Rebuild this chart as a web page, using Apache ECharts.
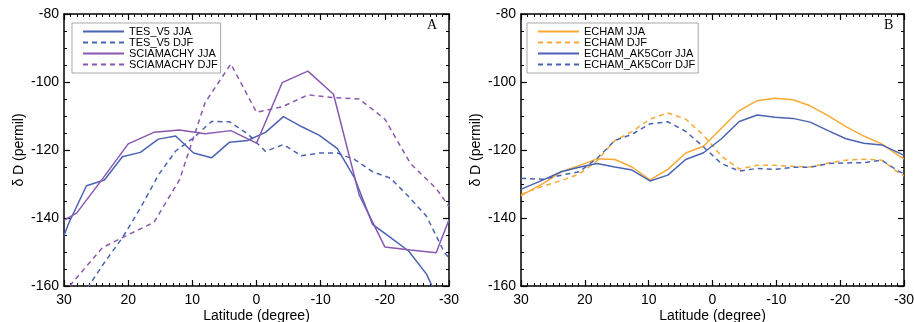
<!DOCTYPE html>
<html>
<head>
<meta charset="utf-8">
<script src="https://cdn.jsdelivr.net/npm/echarts@6/dist/echarts.min.js"></script>
<style>
  html, body { margin: 0; padding: 0; background: #fff; }
  #chart { width: 914px; height: 322px; }
</style>
</head>
<body>
<div id="chart"></div>
<script>
// latitude grids (degrees north)
const latT42 = [30, 29.3, 26.5, 23.7, 20.9, 18.1, 15.3, 12.6, 9.8, 7.0, 4.2, 1.4,
  -1.4, -4.2, -7.0, -9.8, -12.6, -15.3, -18.1, -20.9, -23.7, -26.5, -29.3, -30];
const latSciamachy = [30, 28, 24, 20, 16, 12, 8, 4, 0, -4, -8, -12, -16, -20, -24, -28, -30];

// panel A
const tesJJA = [-145.2, -141.7, -130.5, -128.8, -122.0, -120.7, -116.8, -115.9, -120.9, -122.3, -117.7, -117.2,
  -114.8, -110.2, -113.1, -115.7, -119.6, -128.3, -141.9, -145.8, -149.7, -156.5, -168, -171];
const tesDJF = [-175, -172, -161, -153.1, -145.8, -137.1, -127.4, -120.3, -116.4, -111.6, -111.7, -115.2,
  -120.4, -118.4, -121.7, -120.9, -120.9, -122.8, -126.4, -128.3, -133.7, -139.5, -150.2, -151.7];
const sciaJJA = [-140.7, -138.5, -128.5, -118.2, -114.8, -114.1, -115.2, -114.3, -118.0,
  -100.2, -96.8, -103.6, -133.2, -148.5, -149.4, -150.2, -140.5];
const sciaDJF = [-162, -157.5, -148.7, -144.9, -141.3, -128.8, -106, -94.7, -108.9,
  -107.3, -103.8, -104.6, -105.0, -110.9, -124.0, -131.3, -136.6];

// panel B
const echamJJA = [-133.5, -132.7, -129.8, -126.4, -124.6, -122.6, -122.8, -125.0, -128.8, -125.7, -120.9, -118.9,
  -113.6, -108.4, -105.5, -104.8, -105.2, -107.0, -109.9, -113.1, -115.9, -118.2, -121.8, -122.6];
const echamDJF = [-133.2, -132.5, -130.6, -129.0, -127.1, -123.2, -117.2, -114.6, -110.9, -109.1, -110.9, -115.7,
  -121.8, -125.6, -124.5, -124.5, -124.8, -125.0, -123.8, -123.0, -122.7, -123.0, -126.9, -127.6];
const ak5JJA = [-131.6, -131.0, -128.8, -126.4, -125.1, -124.0, -125.0, -125.9, -129.1, -127.4, -122.8, -120.8,
  -116.7, -111.6, -109.7, -110.4, -110.7, -111.8, -114.3, -116.7, -118.0, -118.5, -120.9, -121.6];
const ak5DJF = [-128.3, -128.4, -128.6, -127.4, -126.4, -122.5, -117.2, -115.4, -112.3, -111.7, -114.5, -119.1,
  -124.0, -126.2, -125.4, -125.7, -125.1, -125.1, -124.0, -123.8, -123.7, -123.0, -126.4, -126.9];

const BLUE = "#4a63b3";
const PURPLE = "#8a58b0";
const ORANGE = "#f6a935";
const FONT = "Liberation Sans";

const chart = echarts.init(document.getElementById("chart"), null, { renderer: "canvas" });

function zip(xs, ys) {
  return xs.map((x, i) => [x, ys[i]]);
}

function xAxes(gridIndex) {
  const common = {
    gridIndex: gridIndex,
    type: "value",
    min: -30,
    max: 30,
    interval: 10,
    inverse: true,
    axisLine: { onZero: false, lineStyle: { color: "#000", width: 1.5 } },
    axisTick: { inside: true, length: 6, lineStyle: { color: "#000", width: 1.2 } },
    minorTick: { show: true, splitNumber: 10, length: 3, lineStyle: { color: "#000", width: 1 } },
    splitLine: { show: false },
  };
  return [
    {
      ...common,
      position: "bottom",
      name: "Latitude (degree)",
      nameLocation: "middle",
      nameGap: 23,
      nameMoveOverlap: false,
      nameTextStyle: { fontFamily: FONT, fontSize: 14, color: "#000" },
      axisLabel: { fontFamily: FONT, fontSize: 14, color: "#000", margin: 7 },
    },
    { ...common, position: "top", axisLabel: { show: false } },
  ];
}

function yAxes(gridIndex) {
  const common = {
    gridIndex: gridIndex,
    type: "value",
    min: -160,
    max: -80,
    interval: 20,
    axisLine: { onZero: false, lineStyle: { color: "#000", width: 1.5 } },
    axisTick: { inside: true, length: 6, lineStyle: { color: "#000", width: 1.2 } },
    minorTick: { show: true, splitNumber: 4, length: 3, lineStyle: { color: "#000", width: 1 } },
    splitLine: { show: false },
  };
  return [
    {
      ...common,
      position: "left",
      name: "δ D (permil)",
      nameLocation: "middle",
      nameGap: 38,
      nameRotate: 90,
      nameMoveOverlap: false,
      nameTextStyle: { fontFamily: FONT, fontSize: 14, color: "#000" },
      axisLabel: { fontFamily: FONT, fontSize: 14, color: "#000", margin: 5 },
    },
    { ...common, position: "right", axisLabel: { show: false } },
  ];
}

function lineSeries(name, xAxisIndex, yAxisIndex, data, color, dashed) {
  return {
    name: name,
    type: "line",
    xAxisIndex: xAxisIndex,
    yAxisIndex: yAxisIndex,
    data: data,
    symbol: "none",
    clip: true,
    silent: true,
    lineStyle: { color: color, width: 1.5, type: dashed ? [5, 4] : "solid" },
    itemStyle: { color: color },
  };
}

function legendBox(left, names) {
  return {
    orient: "vertical",
    left: left,
    top: 23,
    data: names,
    itemWidth: 41,
    itemHeight: 10,
    itemGap: 0,
    padding: [3, 3, 3, 10],
    borderColor: "#a8a8a8",
    borderWidth: 1,
    selectedMode: false,
    itemStyle: { opacity: 0 },
    textStyle: { fontFamily: FONT, fontSize: 11, lineHeight: 10, color: "#000" },
  };
}

const option = {
  animation: false,
  backgroundColor: "#fff",
  grid: [
    { left: 64, right: 465, top: 14, bottom: 36, outerBoundsMode: "none" },
    { left: 521, right: 10, top: 14, bottom: 36, outerBoundsMode: "none" },
  ],
  xAxis: [...xAxes(0), ...xAxes(1)],
  yAxis: [...yAxes(0), ...yAxes(1)],
  legend: [
    legendBox(72, ["TES_V5 JJA", "TES_V5 DJF", "SCIAMACHY JJA", "SCIAMACHY DJF"]),
    legendBox(527, ["ECHAM JJA", "ECHAM DJF", "ECHAM_AK5Corr JJA", "ECHAM_AK5Corr DJF"]),
  ],
  graphic: [
    { type: "text", left: 427, top: 18, style: { text: "A", font: "14px 'Liberation Serif'", fill: "#000" } },
    { type: "text", left: 884, top: 18, style: { text: "B", font: "14px 'Liberation Serif'", fill: "#000" } },
  ],
  series: [
    lineSeries("TES_V5 JJA", 0, 0, zip(latT42, tesJJA), BLUE, false),
    lineSeries("TES_V5 DJF", 0, 0, zip(latT42, tesDJF), BLUE, true),
    lineSeries("SCIAMACHY JJA", 0, 0, zip(latSciamachy, sciaJJA), PURPLE, false),
    lineSeries("SCIAMACHY DJF", 0, 0, zip(latSciamachy, sciaDJF), PURPLE, true),
    lineSeries("ECHAM JJA", 2, 2, zip(latT42, echamJJA), ORANGE, false),
    lineSeries("ECHAM DJF", 2, 2, zip(latT42, echamDJF), ORANGE, true),
    lineSeries("ECHAM_AK5Corr JJA", 2, 2, zip(latT42, ak5JJA), BLUE, false),
    lineSeries("ECHAM_AK5Corr DJF", 2, 2, zip(latT42, ak5DJF), BLUE, true),
  ],
};

chart.setOption(option);
</script>
</body>
</html>
